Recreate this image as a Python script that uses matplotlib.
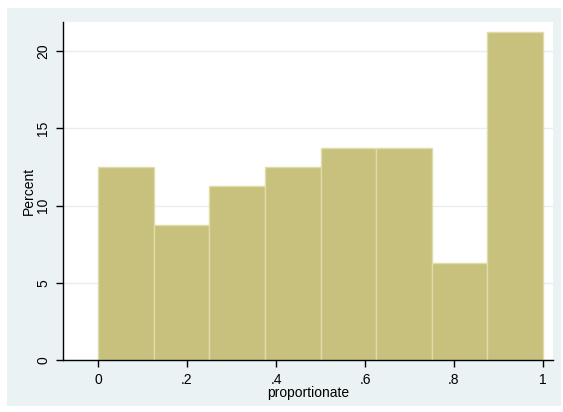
import numpy as np
import matplotlib.pyplot as plt
from matplotlib.patches import Rectangle

bin_edges = [0, 0.125, 0.25, 0.375, 0.5, 0.625, 0.75, 0.875, 1.0]
percent = [12.5, 8.75, 11.25, 12.5, 13.75, 13.75, 6.25, 21.25]
xticks = [0, 0.2, 0.4, 0.6, 0.8, 1.0]
xtick_labels = ['0', '.2', '.4', '.6', '.8', '1']
yticks = [0, 5, 10, 15, 20]

plt.rcParams['font.family'] = ['Liberation Sans', 'DejaVu Sans']

W, H = 563, 412
fig = plt.figure(figsize=(W / 100, H / 100), dpi=100)
fig.patch.set_facecolor('white')
# Stata graph region
fig.patches.append(Rectangle((7 / W, 1 - 406 / H), (561 - 7) / W, (406 - 8) / H,
                             transform=fig.transFigure, facecolor='#eaf2f3',
                             edgecolor='none', zorder=-1))

ax = fig.add_axes([63 / W, 1 - 360 / H, (553 - 63) / W, (360 - 22) / H])
ax.set_zorder(2)
ax.set_facecolor('white')

widths = np.diff(bin_edges)
ax.bar(bin_edges[:-1], percent, width=widths, align='edge',
       color='#c8c17d', edgecolor='#e0dcaa', linewidth=1, zorder=2)

ax.set_xlim(-0.0787, 1.0225)
ax.set_ylim(0, 21.88)
ax.set_xticks(xticks)
ax.set_xticklabels(xtick_labels)
ax.set_yticks(yticks)
ax.set_yticklabels([str(v) for v in yticks], rotation=90, va='center')
ax.yaxis.grid(True, color='#e6eef1', linewidth=1)
ax.set_axisbelow(True)

for s in ['top', 'right']:
    ax.spines[s].set_visible(False)
for s in ['left', 'bottom']:
    ax.spines[s].set_color('black')
    ax.spines[s].set_linewidth(1)
ax.tick_params(direction='out', length=5, width=1, labelsize=10, pad=4)

ax.set_xlabel('proportionate', fontsize=10, labelpad=0)
ax.set_ylabel('Percent', fontsize=10, labelpad=0.5)

fig.savefig('out.png', dpi=100)
